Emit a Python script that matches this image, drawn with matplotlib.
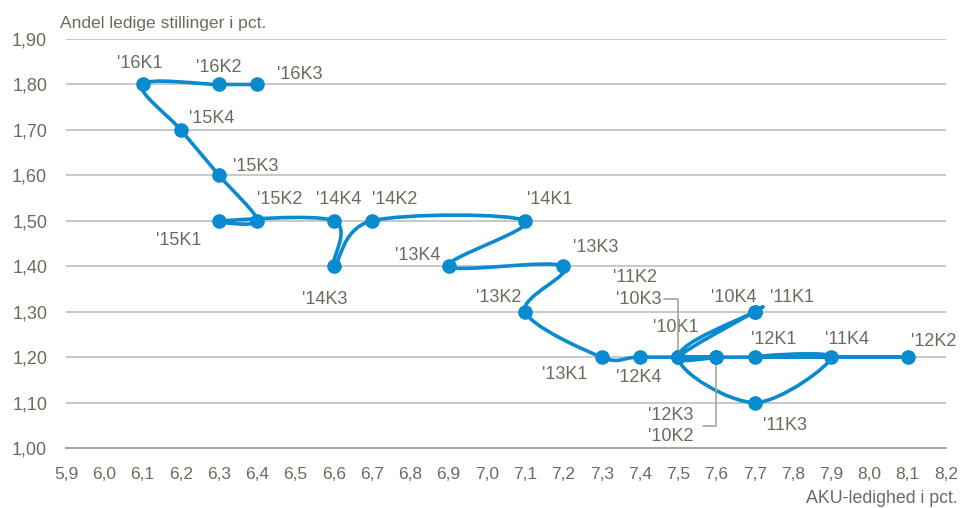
import numpy as np
import matplotlib
matplotlib.use("Agg")
import matplotlib.pyplot as plt
from matplotlib.path import Path
from matplotlib.patches import PathPatch

# Kvartaler og vaerdier (AKU-ledighed, andel ledige stillinger)
kvartaler = ["'10K1", "'10K2", "'10K3", "'10K4",
             "'11K1", "'11K2", "'11K3", "'11K4",
             "'12K1", "'12K2", "'12K3", "'12K4",
             "'13K1", "'13K2", "'13K3", "'13K4",
             "'14K1", "'14K2", "'14K3", "'14K4",
             "'15K1", "'15K2", "'15K3", "'15K4",
             "'16K1", "'16K2", "'16K3"]
aku_ledighed = [7.5, 7.6, 7.5, 7.7,
                7.7, 7.5, 7.7, 7.9,
                7.7, 8.1, 7.6, 7.4,
                7.3, 7.1, 7.2, 6.9,
                7.1, 6.7, 6.6, 6.6,
                6.3, 6.4, 6.3, 6.2,
                6.1, 6.3, 6.4]
ledige_stillinger = [1.2, 1.2, 1.2, 1.3,
                     1.3, 1.2, 1.1, 1.2,
                     1.2, 1.2, 1.2, 1.2,
                     1.2, 1.3, 1.4, 1.4,
                     1.5, 1.5, 1.4, 1.5,
                     1.5, 1.5, 1.6, 1.7,
                     1.8, 1.8, 1.8]

x_ticks = [round(5.9 + 0.1 * i, 1) for i in range(24)]
y_ticks = [round(1.0 + 0.1 * i, 1) for i in range(10)]

BLUE = "#0a8bd0"
TXT = "#6b6b5d"
LEADER = "#a6a69a"
FONT = ["Liberation Sans Narrow", "Liberation Sans", "DejaVu Sans"]

# etiketplacering i pixels (dx, dy, ha)
offsets = {
    "'16K1": (-3, 21, "center"), "'16K2": (0, 17, "center"), "'16K3": (20, 10, "left"),
    "'15K4": (8, 11, "left"), "'15K3": (14, 9, "left"), "'15K2": (0, 21, "left"),
    "'15K1": (-18, -20, "right"), "'14K4": (-18, 21, "left"), "'14K2": (0, 21, "left"),
    "'14K1": (2, 21, "left"), "'14K3": (-32, -33, "left"), "'13K4": (-8, 11, "right"),
    "'13K3": (10, 19, "left"), "'13K2": (-4, 14, "right"), "'13K1": (-14, -17, "right"),
    "'12K4": (-24, -20, "left"), "'12K1": (-4, 18, "left"), "'11K4": (-6, 18, "left"),
    "'12K2": (3, 16, "left"), "'11K3": (8, -23, "left"), "'10K4": (-44, 14, "left"),
    "'11K1": (15, 14, "left"), "'10K1": (-25, 30, "left"),
}


def smooth_path(xs, ys):
    # Bezier-kurve gennem punkterne (Catmull-Rom, som Excels udglattede linjer)
    pts = np.column_stack([xs, ys])
    n = len(pts)
    verts = [pts[0]]
    codes = [Path.MOVETO]
    for i in range(n - 1):
        p0 = pts[i - 1] if i > 0 else pts[i]
        p1 = pts[i]
        p2 = pts[i + 1]
        p3 = pts[i + 2] if i + 2 < n else pts[i + 1]
        c1 = p1 + (p2 - p0) / 6.0
        c2 = p2 - (p3 - p1) / 6.0
        verts += [c1, c2, p2]
        codes += [Path.CURVE4] * 3
    return Path(verts, codes)


fig = plt.figure(figsize=(9.62, 5.08), dpi=100)
ax = fig.add_axes([0.0686, 0.1181, 0.9148, 0.8051])

ax.add_patch(PathPatch(smooth_path(aku_ledighed, ledige_stillinger), facecolor="none",
                       edgecolor=BLUE, lw=2.6, capstyle="round", joinstyle="round", zorder=3))
ax.plot(aku_ledighed, ledige_stillinger, "o", ms=9.5, color=BLUE, zorder=4)

ax.set_xlim(5.9, 8.2)
ax.set_ylim(1.0, 1.9)
ax.set_xticks(x_ticks)
ax.set_xticklabels([f"{v:.1f}".replace(".", ",") for v in x_ticks])
ax.set_yticks(y_ticks)
ax.set_yticklabels([f"{v:.2f}".replace(".", ",") for v in y_ticks])
for lab in ax.get_xticklabels():
    lab.set_family(FONT)
    lab.set_fontsize(12.5)
    lab.set_color(TXT)
for lab in ax.get_yticklabels():
    lab.set_family(FONT)
    lab.set_fontsize(13)
    lab.set_color(TXT)
ax.tick_params(axis="both", length=0)
ax.tick_params(axis="x", pad=13.5)
ax.tick_params(axis="y", pad=13.5)

ax.grid(axis="y", color="#c4c4c4", lw=1.3)
ax.set_axisbelow(True)
for s in ["top", "right", "left"]:
    ax.spines[s].set_visible(False)
ax.spines["bottom"].set_color("#a6a6a6")
ax.spines["bottom"].set_linewidth(1.5)

for name, x, y in zip(kvartaler, aku_ledighed, ledige_stillinger):
    if name in offsets:
        dx, dy, ha = offsets[name]
        ax.annotate(name, (x, y), xytext=(dx, dy), textcoords="offset pixels",
                    ha=ha, va="center", fontsize=13, color=TXT, family="Liberation Sans")

# etiketter med henvisningslinjer for sammenfaldende punkter
ax.annotate("'11K2", (7.5, 1.2), xytext=(-65, 80), textcoords="offset pixels",
            ha="left", va="center", fontsize=13, color=TXT, family="Liberation Sans")
ax.annotate("'10K3", (7.5, 1.2), xytext=(-17, 58), textcoords="offset pixels",
            ha="right", va="center", fontsize=13, color=TXT, family="Liberation Sans",
            arrowprops=dict(arrowstyle="-", color=LEADER, lw=1.2,
                            connectionstyle="angle,angleA=0,angleB=90,rad=0",
                            shrinkA=0, shrinkB=3))
ax.annotate("'12K3\n'10K2", (7.6, 1.2), xytext=(-46, -69), textcoords="offset pixels",
            ha="center", va="center", fontsize=13, color=TXT, family="Liberation Sans",
            linespacing=1.25,
            arrowprops=dict(arrowstyle="-", color=LEADER, lw=1.2,
                            connectionstyle="angle,angleA=0,angleB=90,rad=0",
                            shrinkA=5, shrinkB=3))

fig.text(60 / 962, 1 - 28 / 508, "Andel ledige stillinger i pct.", ha="left", va="baseline",
         fontsize=12.6, color=TXT, family=FONT)
fig.text(958 / 962, 1 - 503 / 508, "AKU-ledighed i pct.", ha="right", va="baseline",
         fontsize=12.8, color=TXT, family=FONT)

fig.savefig("out.png", dpi=100)
